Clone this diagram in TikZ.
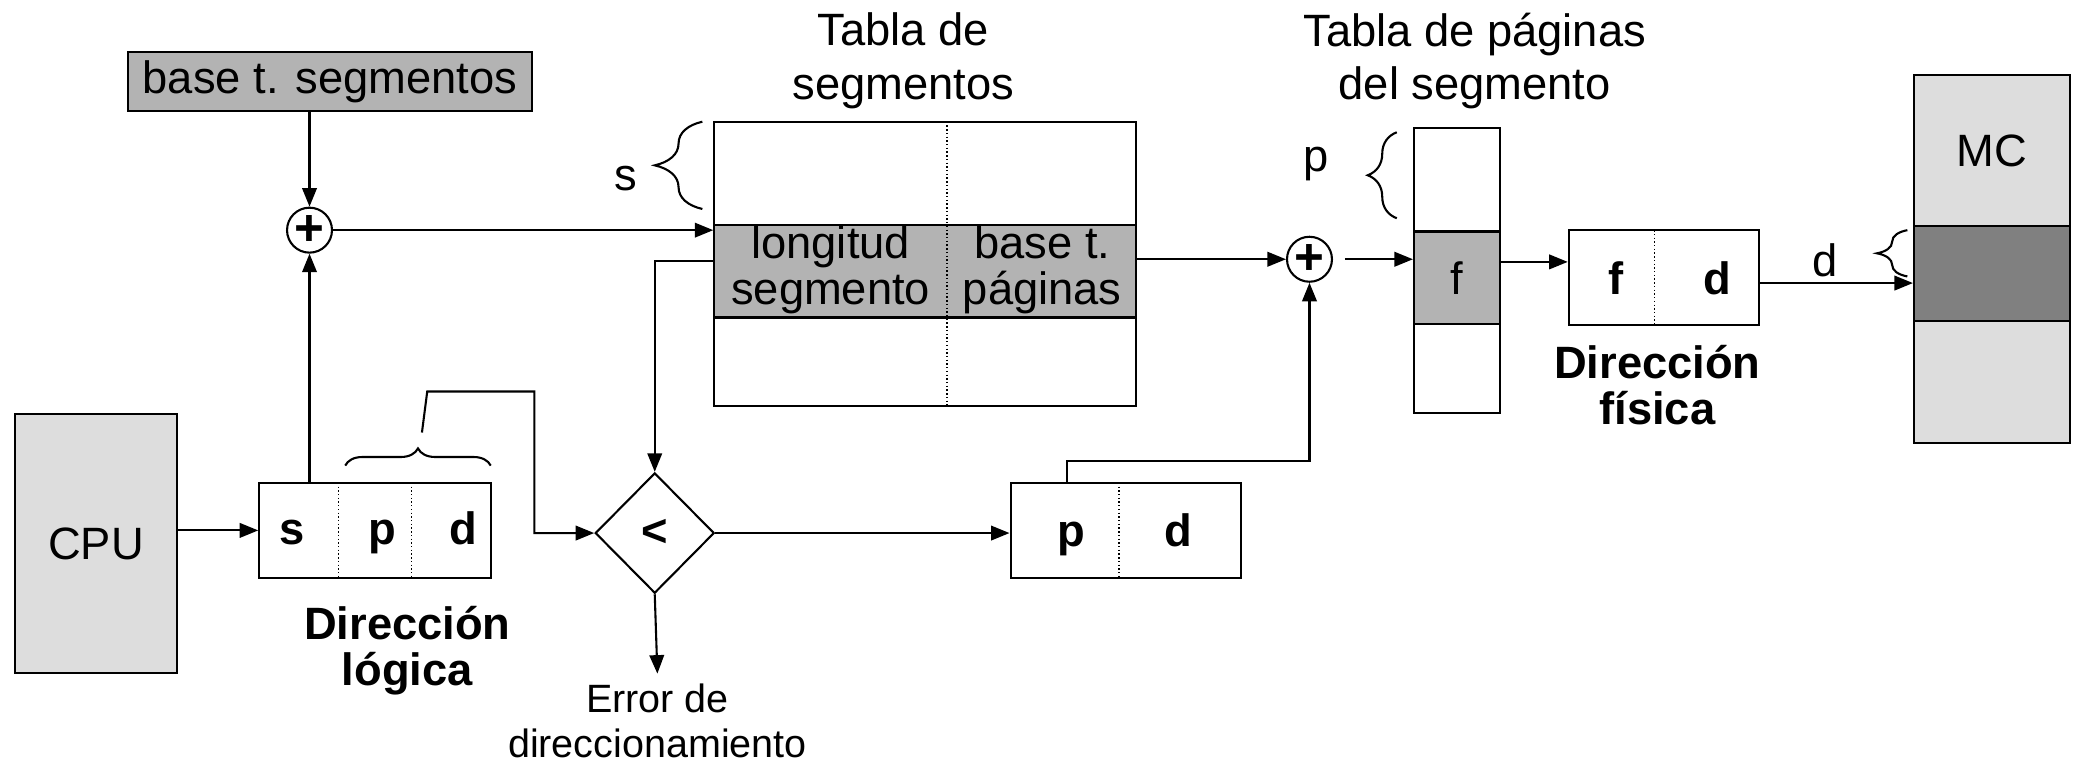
\documentclass[tikz,border=0pt]{standalone}
\usepackage{fontspec}
\setmainfont{Liberation Sans}
\usetikzlibrary{arrows.meta,shapes.geometric,decorations.pathreplacing}
\definecolor{rowgray}{HTML}{B3B3B3}
\definecolor{memlight}{HTML}{DDDDDD}
\definecolor{memdark}{HTML}{808080}
\begin{document}
\begin{tikzpicture}[x=0.02cm, y=-0.02cm, line width=0.9pt,
    >={Triangle[length=0.28cm,width=0.22cm]},
    txt/.style={font=\fontsize{19.5}{19.6}\selectfont, inner sep=0pt, align=center},
    ttl/.style={font=\fontsize{19.5}{23}\selectfont, inner sep=0pt, align=center},
    boldtxt/.style={font=\fontsize{19.5}{19.6}\selectfont\bfseries, inner sep=0pt, align=center},
    divider/.style={densely dotted, line width=0.6pt},
    adder/.style={draw, circle, minimum size=0.68cm, inner sep=0pt, font=\fontsize{22}{22}\selectfont\bfseries},
    bracel/.style={decorate, decoration={brace, amplitude=#1}}]
    \useasboundingbox (0,0) rectangle (1568,578);

    % CPU y direccion logica
    \node[draw, fill=memlight, minimum width=2.46cm, minimum height=3.92cm, txt] (cpu) at (72.5,411) {CPU};
    \node[draw, minimum width=3.5cm, minimum height=1.44cm] (logaddr) at (283.5,401) {};
    \draw[divider] (256,365) -- (256,437);
    \draw[divider] (311,365) -- (311,437);
    \node[boldtxt, anchor=base] (ls) at (221,412) {s};
    \node[boldtxt, anchor=base] (lp) at (289,412) {p};
    \node[boldtxt, anchor=base] (ld) at (350,412) {d};
    \node[boldtxt] (logname) at (308,492) {Dirección\\lógica};
    \draw[->] (cpu.east |- logaddr) -- (logaddr.west);

    % primer sumador
    \node[draw, fill=rowgray, minimum width=6.1cm, minimum height=0.9cm, txt] (segbase) at (249.5,61.5) {base t. segmentos};
    \node[adder] (sum1) at (234,174) {+};
    \draw[->] (segbase.south -| sum1) -- (sum1.north);
    \draw[->] (sum1 |- logaddr.north) -- (sum1.south);

    % tabla de segmentos
    \node[ttl] (segtitle) at (683,46) {Tabla de\\segmentos};
    \node[draw, minimum width=6.38cm, minimum height=1.56cm] (segtop) at (699.5,131) {};
    \node[draw, fill=rowgray, minimum width=6.38cm, minimum height=1.4cm] (segrow) at (699.5,205) {};
    \node[draw, minimum width=6.38cm, minimum height=1.34cm] (segbot) at (699.5,273.5) {};
    \draw[divider] (716,92) -- (716,307);
    \node[txt] (seglen) at (628,204) {longitud\\segmento};
    \node[txt] (segpt) at (788,204) {base t.\\páginas};
    \draw[bracel=0.72cm] (531,158) -- (531,92);
    \node[txt] (slbl) at (473,135) {s};
    \draw[->] (sum1) -- (sum1 -| segrow.west);

    % comparador
    \node[draw, diamond, minimum width=1.8cm, minimum height=1.82cm, boldtxt] (cmp) at (495,403) {<};
    \node[font=\fontsize{17}{19.3}\selectfont, align=center, inner xsep=0pt, inner ysep=0.14cm] (err) at (497,545) {Error de\\direccionamiento};
    \draw[->] ([yshift=0.16cm]segrow.west) -| (cmp.north);
    \draw[->] (cmp.south) -- (err.north);
    \draw[bracel=0.26cm] (261,352) -- (371,352);
    \coordinate (pdtip) at (319,327);
    \draw[->] (pdtip) -- ++(4,-31) -- ++(81,0) |- (cmp.west);

    % p d
    \node[draw, minimum width=3.48cm, minimum height=1.44cm] (pdaddr) at (851,401) {};
    \draw[divider] (846,365) -- (846,437);
    \node[boldtxt, anchor=base] (pp) at (810,413) {p};
    \node[boldtxt, anchor=base] (pd) at (891,413) {d};
    \draw[->] (cmp.east) -- (cmp.east -| pdaddr.west);

    % segundo sumador
    \node[adder] (sum2) at (990,196) {+};
    \draw[->] (segrow.east |- sum2) -- (sum2.west);
    \draw[->] ([xshift=-0.88cm]pdaddr.north) -- ++(0,-16) -| (sum2.south);

    % tabla de paginas
    \node[ttl] (pgtitle) at (1115,46) {Tabla de páginas\\del segmento};
    \node[draw, minimum width=1.3cm, minimum height=1.56cm] (pgtop) at (1101.5,136) {};
    \node[draw, fill=rowgray, minimum width=1.3cm, minimum height=1.4cm, txt] (pgrow) at (1101.5,210) {f};
    \node[draw, minimum width=1.3cm, minimum height=1.34cm] (pgbot) at (1101.5,278.5) {};
    \draw[bracel=0.44cm] (1056,165) -- (1056,100);
    \node[txt] (plbl) at (995,124) {p};
    \draw[->, shorten <=0.18cm] (sum2) -- (sum2 -| pgrow.west);

    % direccion fisica
    \node[draw, minimum width=2.88cm, minimum height=1.44cm] (physaddr) at (1258,210) {};
    \draw[divider] (1251,174) -- (1251,246);
    \node[boldtxt, anchor=base] (ff) at (1222,223) {f};
    \node[boldtxt, anchor=base] (fd) at (1298,223) {d};
    \node[boldtxt] (physname) at (1253,291) {Dirección\\física};
    \draw[->] ([yshift=0.24cm]pgrow.east) -- ([yshift=0.24cm]physaddr.west);

    % memoria
    \node[draw, fill=memlight, minimum width=2.36cm, minimum height=2.28cm, txt] (mctop) at (1506,114) {MC};
    \node[draw, fill=memdark, minimum width=2.36cm, minimum height=1.44cm] (mcband) at (1506,207) {};
    \node[draw, fill=memlight, minimum width=2.36cm, minimum height=1.84cm] (mcbot) at (1506,289) {};
    \draw[bracel=0.46cm] (1442,209) -- (1442,174);
    \node[txt] (dlbl) at (1380,197) {d};
    \draw[->] ([yshift=-0.08cm]physaddr.east) -- ([yshift=-0.08cm]physaddr.east -| mcband.west);
\end{tikzpicture}
\end{document}
